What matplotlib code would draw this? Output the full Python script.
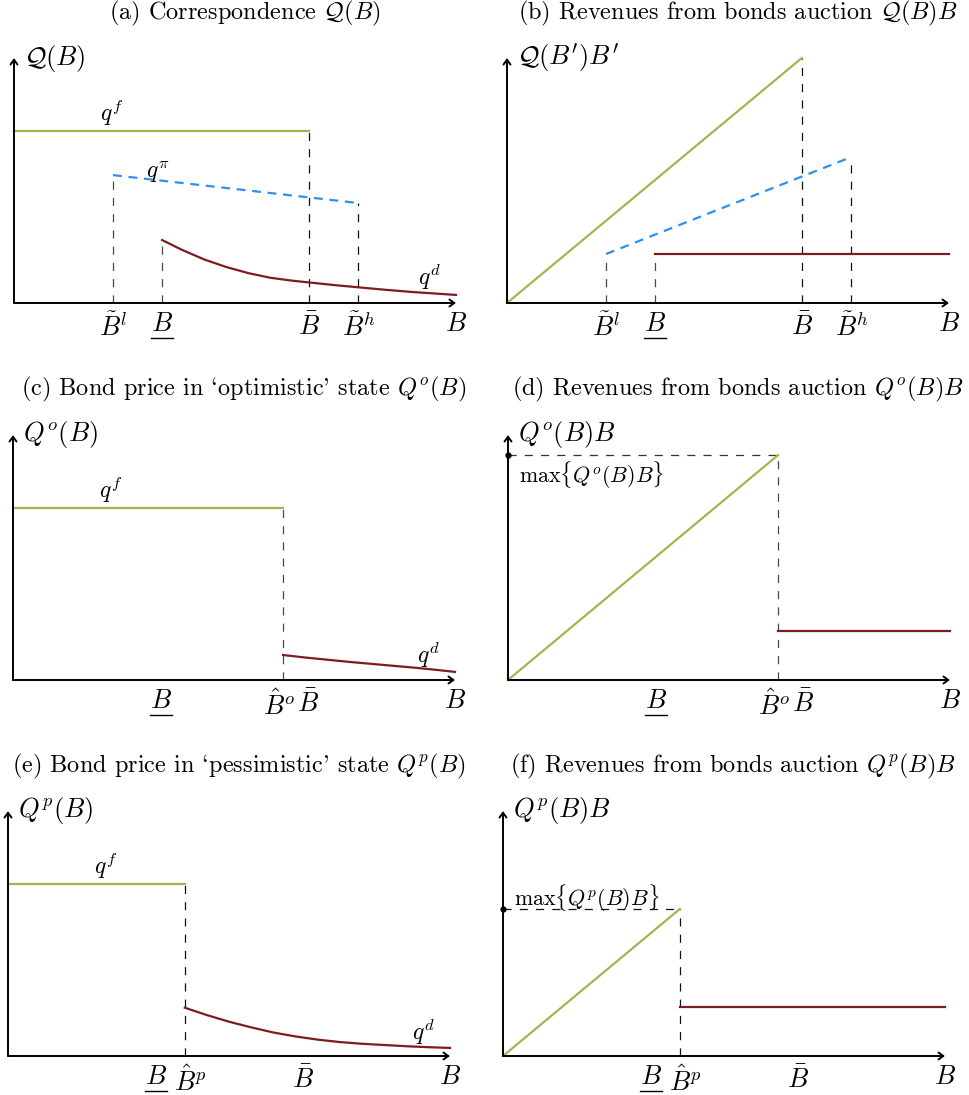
import matplotlib.pyplot as plt
from matplotlib.lines import Line2D

plt.rcParams['font.family'] = ['cmr10', 'DejaVu Serif']
plt.rcParams['mathtext.fontset'] = 'cm'
plt.rcParams['axes.unicode_minus'] = False

W, H = 970, 1095
UX, UY = 44.2, 24.5   # pixels per data unit

GREEN = '#a3b552'
BLUE = '#2f8fef'
RED = '#7c1c22'
BLACK = '#111111'
GREY = '#484848'

# debt thresholds
B_tl, B_low, B_bar, B_th = 2.24, 3.35, 6.67, 7.79
B_hat_o, B_hat_p = 6.11, 4.0

# prices
q_f = 7.02
q_pi = [5.22, 4.08]          # at B_tl and B_th
qd_a_x = [3.35, 3.8, 4.3, 4.8, 5.3, 5.8, 6.3, 6.67, 7.2, 7.79, 8.4, 9.0, 9.5, 10.0]
qd_a_y = [2.57, 2.17, 1.78, 1.47, 1.22, 1.03, 0.91, 0.84, 0.74, 0.64, 0.54, 0.45, 0.39, 0.33]
qd_o_x = [6.11, 6.6, 7.1, 7.6, 8.1, 8.6, 9.1, 9.6, 10.0]
qd_o_y = [1.02, 0.92, 0.83, 0.74, 0.66, 0.58, 0.50, 0.41, 0.33]
qd_p_x = [4.0, 4.5, 5.0, 5.5, 6.0, 6.5, 7.0, 7.5, 8.0, 8.5, 9.0, 9.5, 10.0]
qd_p_y = [1.97, 1.67, 1.40, 1.17, 0.96, 0.80, 0.67, 0.57, 0.50, 0.45, 0.40, 0.36, 0.33]

# revenues
rev_f_top = 10.0             # q^f * B at B_bar
rev_pi = [2.0, 5.96]         # at B_tl and B_th
rev_d = 2.0
rev_o_max = 9.18
rev_p_max = 6.0

titles = [r'(a) Correspondence $\mathcal{Q}(B)$',
          r'(b) Revenues from bonds auction $\mathcal{Q}(B)B$',
          r"(c) Bond price in `optimistic' state $Q^o(B)$",
          r'(d) Revenues from bonds auction $Q^o(B)B$',
          r"(e) Bond price in `pessimistic' state $Q^p(B)$",
          r'(f) Revenues from bonds auction $Q^p(B)B$']
title_pos = [(245, 19), (738, 19), (244, 395), (738, 395), (239, 772), (733, 772)]
origins = [(14, 303), (507, 303), (13, 680), (508, 680), (8, 1056), (503, 1056)]
ylabels = [r'$\mathcal{Q}(B)$', r"$\mathcal{Q}(B')B'$", r'$Q^o(B)$',
           r'$Q^o(B)B$', r'$Q^p(B)$', r'$Q^p(B)B$']

fig = plt.figure(figsize=(W / 100, H / 100), dpi=100)
underlined = []


def panel(i):
    ox, oy = origins[i]
    ax = fig.add_axes([(ox - UX) / W, (H - oy - UY) / H, 12 * UX / W, 12 * UY / H])
    ax.set_xlim(-1, 11)
    ax.set_ylim(-1, 11)
    ax.axis('off')
    arrow = dict(arrowstyle='->,head_length=0.35,head_width=0.25', lw=1.4,
                 color='black', shrinkA=0, shrinkB=0)
    ax.annotate('', xy=(10, 0), xytext=(0, 0), arrowprops=arrow)
    ax.annotate('', xy=(0, 10), xytext=(0, 0), arrowprops=arrow)
    ax.annotate(ylabels[i], xy=(0, 10), xytext=(7.5, 0), textcoords='offset points',
                ha='left', va='center', fontsize=19)
    ax.annotate('$B$', xy=(10, 0), xytext=(0, -7), textcoords='offset points',
                ha='center', va='top', fontsize=19)
    fig.text(title_pos[i][0] / W, 1 - title_pos[i][1] / H, titles[i],
             ha='center', va='baseline', fontsize=17.5)
    return ax


def tick(ax, x, s, dx=0, under=False):
    t = ax.annotate(s, xy=(x, 0), xytext=(dx, -7), textcoords='offset points',
                    ha='center', va='top', fontsize=19)
    if under:
        underlined.append(t)


def vdash(ax, x, y, color=BLACK):
    ax.plot([x, x], [0, y], color=color, lw=0.9, ls=(0, (6.5, 6.5)))


def hdash(ax, x, y, color=BLACK):
    ax.plot([0, x], [y, y], color=color, lw=0.9, ls=(0, (6.5, 6.5)))


def qlabel(ax, x, y, s):
    ax.text(x, y, s, ha='center', va='baseline', fontsize=17)


# (a) correspondence
ax = panel(0)
vdash(ax, B_tl, q_pi[0], GREY)
vdash(ax, B_low, qd_a_y[0], GREY)
vdash(ax, B_bar, q_f)
vdash(ax, B_th, q_pi[1])
ax.plot([0, B_bar], [q_f, q_f], color=GREEN, lw=1.6)
ax.plot([B_tl, B_th], q_pi, color=BLUE, lw=1.6, ls=(0, (4, 3)))
ax.plot(qd_a_x, qd_a_y, color=RED, lw=1.6)
qlabel(ax, 2.2, q_f + 0.4, '$q^f$')
qlabel(ax, 3.25, 5.1, r'$q^\pi$')
qlabel(ax, 9.4, 0.75, '$q^d$')
for x, s, u in [(B_tl, r'$\tilde{B}^l$', False), (B_low, '$B$', True),
                (B_bar, r'$\bar{B}$', False), (B_th, r'$\tilde{B}^h$', False)]:
    tick(ax, x, s, under=u)

# (b) revenues
ax = panel(1)
vdash(ax, B_tl, rev_pi[0], GREY)
vdash(ax, B_low, rev_d, GREY)
vdash(ax, B_bar, rev_f_top)
vdash(ax, B_th, rev_pi[1])
ax.plot([0, B_bar], [0, rev_f_top], color=GREEN, lw=1.6)
ax.plot([B_tl, B_th], rev_pi, color=BLUE, lw=1.6, ls=(0, (4, 3)))
ax.plot([B_low, 10], [rev_d, rev_d], color=RED, lw=1.6)
for x, s, u in [(B_tl, r'$\tilde{B}^l$', False), (B_low, '$B$', True),
                (B_bar, r'$\bar{B}$', False), (B_th, r'$\tilde{B}^h$', False)]:
    tick(ax, x, s, under=u)

# (c) optimistic price
ax = panel(2)
vdash(ax, B_hat_o, q_f, GREY)
ax.plot([0, B_hat_o], [q_f, q_f], color=GREEN, lw=1.6)
ax.plot(qd_o_x, qd_o_y, color=RED, lw=1.6)
qlabel(ax, 2.2, q_f + 0.4, '$q^f$')
qlabel(ax, 9.4, 0.7, '$q^d$')
tick(ax, B_low, '$B$', under=True)
tick(ax, B_hat_o, r'$\hat{B}^o$', dx=-3)
tick(ax, B_bar, r'$\bar{B}$')

# (d) optimistic revenues
ax = panel(3)
vdash(ax, B_hat_o, rev_o_max, GREY)
hdash(ax, B_hat_o, rev_o_max, '#333333')
ax.plot([0, B_hat_o], [0, rev_o_max], color=GREEN, lw=1.6)
ax.plot([B_hat_o, 10], [rev_d, rev_d], color=RED, lw=1.6)
ax.plot([0], [rev_o_max], 'o', color='black', ms=3.5, clip_on=False)
ax.annotate(r'$\max\{Q^o(B)B\}$', xy=(0.25, rev_o_max), xytext=(0, -3),
            textcoords='offset points', ha='left', va='top', fontsize=15.8)
tick(ax, B_low, '$B$', under=True)
tick(ax, B_hat_o, r'$\hat{B}^o$', dx=-3)
tick(ax, B_bar, r'$\bar{B}$')

# (e) pessimistic price
ax = panel(4)
vdash(ax, B_hat_p, q_f)
ax.plot([0, B_hat_p], [q_f, q_f], color=GREEN, lw=1.6)
ax.plot(qd_p_x, qd_p_y, color=RED, lw=1.6)
qlabel(ax, 2.2, q_f + 0.4, '$q^f$')
qlabel(ax, 9.4, 0.66, '$q^d$')
tick(ax, B_low, '$B$', under=True)
tick(ax, B_hat_p, r'$\hat{B}^p$', dx=4)
tick(ax, B_bar, r'$\bar{B}$')

# (f) pessimistic revenues
ax = panel(5)
vdash(ax, B_hat_p, rev_p_max)
hdash(ax, B_hat_p, rev_p_max)
ax.plot([0, B_hat_p], [0, rev_p_max], color=GREEN, lw=1.6)
ax.plot([B_hat_p, 10], [rev_d, rev_d], color=RED, lw=1.6)
ax.plot([0], [rev_p_max], 'o', color='black', ms=3.5, clip_on=False)
ax.annotate(r'$\max\{Q^p(B)B\}$', xy=(0.25, rev_p_max), xytext=(0, 2),
            textcoords='offset points', ha='left', va='baseline', fontsize=15.8)
tick(ax, B_low, '$B$', under=True)
tick(ax, B_hat_p, r'$\hat{B}^p$', dx=4)
tick(ax, B_bar, r'$\bar{B}$')

# underline the lower debt bound labels
fig.canvas.draw()
inv = fig.transFigure.inverted()
for t in underlined:
    bb = t.get_window_extent()
    (x0, y0), (x1, _) = inv.transform([(bb.x0, bb.y0 - 2), (bb.x1, bb.y0 - 2)])
    fig.add_artist(Line2D([x0, x1], [y0, y0], color='black', lw=1.0,
                          transform=fig.transFigure))

fig.savefig('out.png', dpi=100)
